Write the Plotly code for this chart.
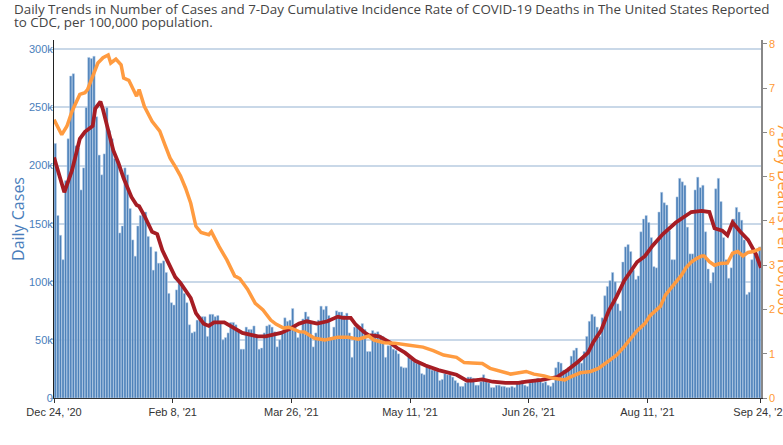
import pandas as pd
import plotly.graph_objects as go

# Daily cases (thousands), one bar per day starting 2020-12-24
CASES_K = [
    219, 157, 140, 119, 187, 223, 277, 279, 217, 215, 179, 198, 250, 293, 292, 294, 242, 209, 192, 210,
    250, 230, 223, 206, 205, 142, 148, 198, 192, 163, 136, 122, 148, 157, 160, 160, 139, 130, 110, 126,
    116, 116, 118, 108, 90,
    82, 80, 93, 99, 96, 90, 82, 63, 56, 57, 67, 67, 70, 70, 53, 72, 72, 70, 71, 65,
    50, 52, 56, 65, 65, 63, 59, 42, 42, 61, 59, 59, 62, 54, 42, 43, 56, 62, 63, 61,
    57, 44, 50, 57, 69, 66,
    67, 77, 61, 52, 56, 68, 74, 70, 64, 44, 56, 67, 79, 76, 79, 71, 52, 61, 75, 74,
    74, 71, 73, 56, 35, 61, 61, 61, 64, 59, 40, 40, 58, 56, 57, 54, 53, 35, 45, 45,
    42, 41, 38, 27, 26,
    26, 36, 33, 31, 30, 30, 21, 20, 27, 26, 24, 24, 23, 15, 16, 21, 20, 20, 18, 15,
    13, 10, 10, 13, 18, 18, 17, 11, 11, 14, 20, 14, 13, 9, 9, 11, 11, 10, 10, 9,
    9, 10, 9, 14, 14, 15,
    11, 10, 13, 15, 16, 17, 15, 13, 14, 11, 10, 13, 26, 31, 30, 24, 23, 26, 36, 41,
    43, 31, 30, 40, 53, 66, 72, 70, 61, 53, 69, 88, 96, 101, 108, 100, 81, 75, 117, 130,
    132, 126, 110, 102, 105, 143,
    154, 157, 151, 138, 113, 112, 160, 177, 168, 166, 144, 119, 119, 173, 189, 186, 183, 147, 124, 124,
    179, 190, 181, 183, 143, 111, 99, 108, 180, 189, 169, 138, 119, 103, 112, 154, 164, 160, 153, 136,
    89, 91, 119, 127, 124, 130,
]

# 7-day average of cases (thousands)
AVG_DATES = [
    "2020-12-24", "2020-12-28", "2020-12-31", "2021-01-03", "2021-01-05", "2021-01-08", "2021-01-09",
    "2021-01-11", "2021-01-12", "2021-01-14", "2021-01-16", "2021-01-18", "2021-01-20", "2021-01-23",
    "2021-01-25", "2021-01-26", "2021-01-28", "2021-01-31", "2021-02-02", "2021-02-04", "2021-02-07",
    "2021-02-09", "2021-02-11", "2021-02-15", "2021-02-17", "2021-02-20", "2021-02-22", "2021-02-24",
    "2021-02-28", "2021-03-03", "2021-03-07", "2021-03-13", "2021-03-16", "2021-03-22", "2021-03-25",
    "2021-03-29", "2021-04-01", "2021-04-05", "2021-04-09", "2021-04-13", "2021-04-15", "2021-04-18",
    "2021-04-20", "2021-04-23", "2021-04-25", "2021-04-29", "2021-05-03", "2021-05-06", "2021-05-09",
    "2021-05-13", "2021-05-17", "2021-05-22", "2021-05-29", "2021-06-02", "2021-06-04", "2021-06-08",
    "2021-06-12", "2021-06-17", "2021-06-22", "2021-06-25", "2021-07-01", "2021-07-07", "2021-07-11",
    "2021-07-15", "2021-07-19", "2021-07-21", "2021-07-24", "2021-07-27", "2021-07-30", "2021-08-02",
    "2021-08-05", "2021-08-07", "2021-08-10", "2021-08-13", "2021-08-17", "2021-08-22", "2021-08-26",
    "2021-08-28", "2021-09-01", "2021-09-04", "2021-09-06", "2021-09-09", "2021-09-11", "2021-09-13",
    "2021-09-16", "2021-09-19", "2021-09-22", "2021-09-24",
]
AVG_K = [
    207, 177, 196, 223, 229, 234, 249, 255, 248, 232, 213, 202, 189, 173, 166, 165, 157, 143, 141, 127, 112,
    104, 99, 86, 73, 64, 62, 65, 65, 61, 56, 53, 53, 56, 59,
    64, 66, 64, 66, 70, 69, 69, 63, 57, 54, 53, 48, 43, 39,
    32, 28, 24, 20, 15, 15, 16, 14, 13, 13, 14, 15.5, 18, 24,
    31, 39, 48, 58, 75, 87, 101, 111, 117, 122, 131, 141, 151, 157,
    160, 161, 160, 146, 144, 140, 151, 143, 136, 124, 112,
]

# 7-day deaths per 100,000
DEATH_DATES = [
    "2020-12-24", "2020-12-27", "2020-12-29", "2020-12-31", "2021-01-03", "2021-01-05", "2021-01-06",
    "2021-01-08", "2021-01-10", "2021-01-12", "2021-01-14", "2021-01-15", "2021-01-17", "2021-01-19",
    "2021-01-20", "2021-01-22", "2021-01-24", "2021-01-25", "2021-01-26", "2021-01-28", "2021-01-31",
    "2021-02-03", "2021-02-05", "2021-02-07", "2021-02-09", "2021-02-11", "2021-02-13", "2021-02-15",
    "2021-02-17", "2021-02-19", "2021-02-22", "2021-02-23", "2021-02-26", "2021-03-01", "2021-03-04",
    "2021-03-06", "2021-03-09", "2021-03-12", "2021-03-15", "2021-03-18", "2021-03-20", "2021-03-23",
    "2021-03-25", "2021-03-29", "2021-03-31", "2021-04-04", "2021-04-08", "2021-04-10", "2021-04-13",
    "2021-04-17", "2021-04-21", "2021-04-25", "2021-04-27", "2021-05-01", "2021-05-05", "2021-05-10",
    "2021-05-12", "2021-05-16", "2021-05-20", "2021-05-24", "2021-05-29", "2021-06-01", "2021-06-04",
    "2021-06-08", "2021-06-11", "2021-06-15", "2021-06-19", "2021-06-21", "2021-06-25", "2021-06-28",
    "2021-07-02", "2021-07-05", "2021-07-10", "2021-07-12", "2021-07-16", "2021-07-20", "2021-07-23",
    "2021-07-27", "2021-07-30", "2021-08-02", "2021-08-05", "2021-08-07", "2021-08-10", "2021-08-12",
    "2021-08-16", "2021-08-18", "2021-08-22", "2021-08-24", "2021-08-26", "2021-08-28", "2021-08-30",
    "2021-09-01", "2021-09-02", "2021-09-04", "2021-09-06", "2021-09-08", "2021-09-11", "2021-09-13",
    "2021-09-15", "2021-09-17", "2021-09-19", "2021-09-21", "2021-09-24",
]
DEATH_RATE = [
    6.29, 5.95, 6.14, 6.48, 6.86, 6.90, 6.97, 7.27, 7.57, 7.69, 7.75, 7.57, 7.66, 7.53,
    7.23, 7.18, 6.91, 6.82, 6.97, 6.59, 6.25, 6.03, 5.72, 5.42, 5.23, 5.02, 4.74, 4.40,
    3.88, 3.74, 3.69, 3.76, 3.42, 3.12, 2.76, 2.70, 2.46, 2.14, 1.99, 1.76, 1.67, 1.58,
    1.60, 1.50, 1.49, 1.35, 1.31, 1.33, 1.37, 1.37, 1.33, 1.40, 1.31, 1.25, 1.24, 1.20,
    1.18, 1.15, 1.07, 0.97, 0.92, 0.80, 0.79, 0.78, 0.67, 0.61, 0.54, 0.56, 0.60, 0.54,
    0.50, 0.45, 0.41, 0.47, 0.57, 0.60, 0.67, 0.84, 0.97, 1.16, 1.39, 1.52, 1.68, 1.86,
    2.07, 2.33, 2.62, 2.76, 2.95, 3.07, 3.15, 3.21, 3.21, 3.08, 3.00, 3.04, 3.05, 3.27,
    3.31, 3.21, 3.29, 3.31, 3.38,
]

TICK_DATES = ["2020-12-24", "2021-02-08", "2021-03-26", "2021-05-11", "2021-06-26", "2021-08-11", "2021-09-24"]
LEFT_TICKS = [0, 50000, 100000, 150000, 200000, 250000, 300000]
RIGHT_TICKS = [0, 1, 2, 3, 4, 5, 6, 7, 8]

TITLE_1 = "Daily Trends in Number of Cases and 7-Day Cumulative Incidence Rate of COVID-19 Deaths in The United States Reported"
TITLE_2 = "to CDC, per 100,000 population."

bar_dates = pd.date_range("2020-12-24", periods=len(CASES_K), freq="D")
cases = [v * 1000 for v in CASES_K]
avg = [v * 1000 for v in AVG_K]

BLUE = "#4a7ebb"
ORANGE = "#ff9933"

fig = go.Figure()
fig.add_trace(go.Bar(
    x=bar_dates, y=cases, xperiod=86400000, xperiodalignment="middle",
    marker=dict(color="#4d81b9", line=dict(color="#bcd2ea", width=0.5)),
    hoverinfo="skip",
))
fig.add_trace(go.Scatter(
    x=AVG_DATES, y=avg, mode="lines",
    line=dict(color="#a61d24", width=3.8),
))
fig.add_trace(go.Scatter(
    x=DEATH_DATES, y=DEATH_RATE, mode="lines", yaxis="y2",
    line=dict(color="#ff9b40", width=3.5),
))

fig.update_layout(
    width=783, height=445,
    margin=dict(l=54, r=22, t=40, b=47, autoexpand=False),
    paper_bgcolor="white", plot_bgcolor="white",
    showlegend=False, bargap=0.12,
    xaxis=dict(
        type="date", range=["2020-12-24", "2021-09-24 00:20"],
        tickvals=TICK_DATES, tickformat="%b %-d, '%y",
        ticks="outside", ticklen=4, tickcolor="#333",
        showline=True, linecolor="#333", linewidth=1,
        showgrid=False, zeroline=False, automargin=False,
        ticklabeloverflow="allow",
        tickfont=dict(family="Arial", size=11, color="#333"),
    ),
    yaxis=dict(
        range=[0, 308000], tickvals=LEFT_TICKS, tickformat="~s",
        ticks="outside", ticklen=3, tickcolor="#9dbbd8",
        showline=True, linecolor="#222", linewidth=1,
        showgrid=True, gridcolor="#c9d8e8", gridwidth=1.5, zeroline=False,
        automargin=False, ticklabelstandoff=-5,
        tickfont=dict(family="Arial", size=11, color=BLUE),
        title=dict(text="Daily Cases", font=dict(family="Open Sans", size=16, color=BLUE), standoff=0),
    ),
    yaxis2=dict(
        overlaying="y", side="right", range=[0, 8.09], tickvals=RIGHT_TICKS,
        ticks="outside", ticklen=4, tickcolor="#888",
        showline=True, linecolor="#888", linewidth=1.5,
        showgrid=False, zeroline=False, automargin=False,
        tickfont=dict(family="Arial", size=11, color=ORANGE),
    ),
    annotations=[
        dict(text=TITLE_1, xref="paper", yref="paper", x=-0.0594, y=1.0866,
             xanchor="left", yanchor="middle", showarrow=False,
             font=dict(family="Open Sans", size=13.4, color="#444")),
        dict(text=TITLE_2, xref="paper", yref="paper", x=-0.0594, y=1.0503,
             xanchor="left", yanchor="middle", showarrow=False,
             font=dict(family="Open Sans", size=13.4, color="#444")),
        dict(text="7-Day Deaths Per 100,000", xref="paper", yref="paper", x=1.0325, y=0.5,
             xanchor="center", yanchor="middle", textangle=90, showarrow=False,
             font=dict(family="Open Sans", size=16, color=ORANGE)),
    ],
)

fig.write_html("out.html")
